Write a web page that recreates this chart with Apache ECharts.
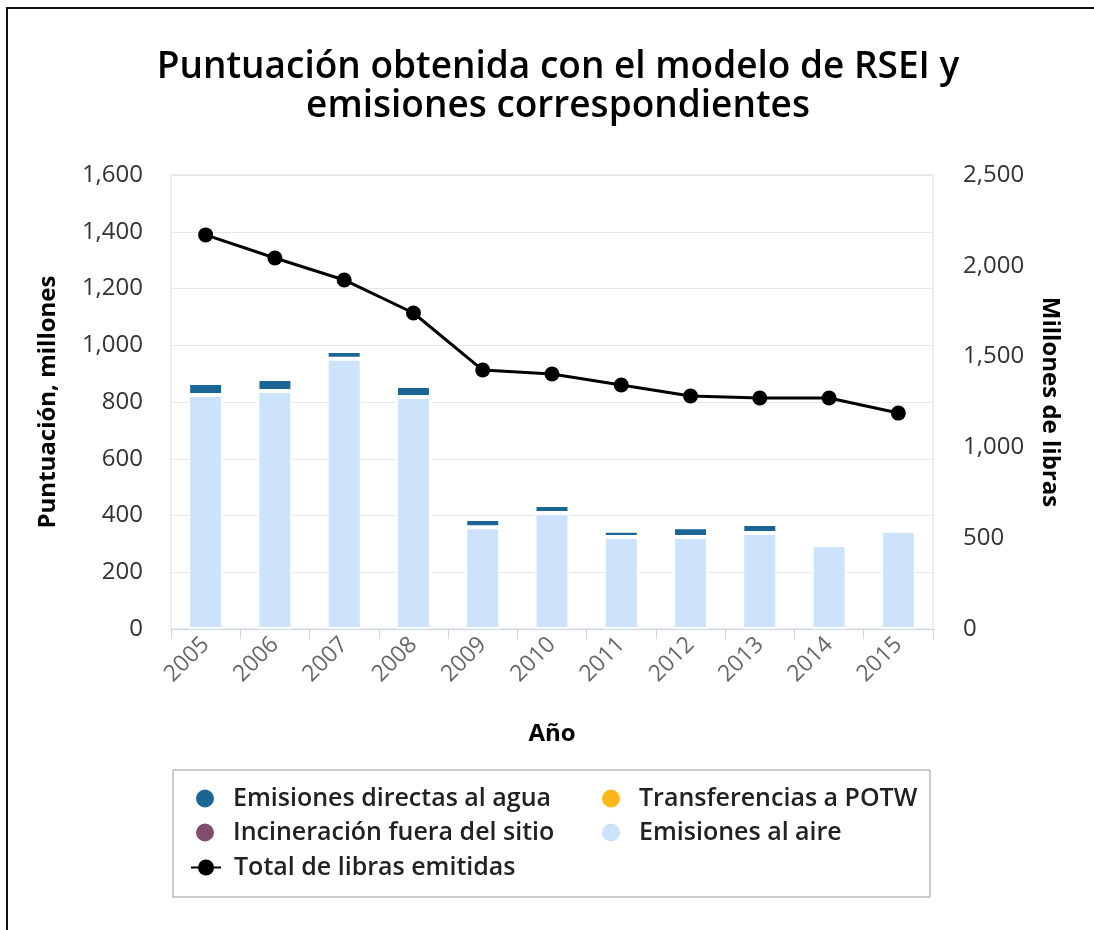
<!DOCTYPE html>
<html>
<head>
<meta charset="utf-8">
<title>RSEI</title>
<script src="https://cdn.jsdelivr.net/npm/echarts@6/dist/echarts.min.js"></script>
<style>
    html, body { margin: 0; padding: 0; background: #fff; }
    #chart { position: absolute; left: 0; top: 0; width: 1094px; height: 930px; }
    /* marco negro del recorte (arriba e izquierda) */
    #frame { position: absolute; left: 6px; top: 7px; width: 1088px; height: 923px;
             border-top: 2px solid #111; border-left: 2px solid #111; pointer-events: none; }
</style>
</head>
<body>
<div id="chart"></div>
<div id="frame"></div>
<script>
// datos
const years = ['2005', '2006', '2007', '2008', '2009', '2010', '2011', '2012', '2013', '2014', '2015'];
const aire = [825, 839, 952, 818, 359, 409, 324, 324, 338, 296, 345];
const agua = [42, 42, 28, 38, 29, 28, 22, 35, 32, 0, 14];
const potw = [0, 0, 0, 0, 0, 0, 0, 0, 0, 0, 0];
const incineracion = [0, 0, 0, 0, 0, 0, 0, 0, 0, 0, 0];
const totalLibras = [2170, 2043, 1922, 1740, 1426, 1404, 1344, 1283, 1272, 1272, 1189];
const leftTicks = [0, 1600, 200];
const rightTicks = [0, 2500, 500];

const chart = echarts.init(document.getElementById('chart'));

const FONT = '"Open Sans", "DejaVu Sans", sans-serif';
const fmt = (v) => v.toLocaleString('en-US');

// una leyenda por elemento para colocarlos en dos columnas
const legendItem = (name, left, top, extra) => Object.assign({
    data: [name],
    left: left,
    top: top,
    itemWidth: 20,
    itemHeight: 20,
    selectedMode: false,
    textStyle: { fontFamily: FONT, fontSize: 25, fontWeight: 600, color: '#222', padding: [0, 0, 0, 13] }
}, extra || {});

const barStyle = (color) => ({ color: color, borderColor: '#fff', borderWidth: 2 });

const axisName = { fontFamily: FONT, fontSize: 24, fontWeight: 'bold', color: '#000' };

const option = {
    animation: false,
    title: {
        text: 'Puntuación obtenida con el modelo de RSEI y\nemisiones correspondientes',
        left: 553,
        top: 43,
        textAlign: 'center',
        textStyle: { fontFamily: FONT, fontSize: 37, fontWeight: 600, color: '#000', lineHeight: 39 }
    },
    legend: [
        legendItem('Emisiones directas al agua', 189, 781, { icon: 'circle' }),
        legendItem('Transferencias a POTW', 595, 781, { icon: 'circle' }),
        legendItem('Incineración fuera del sitio', 189, 815, { icon: 'circle' }),
        legendItem('Emisiones al aire', 595, 815, { icon: 'circle' }),
        legendItem('Total de libras emitidas', 185, 850, {
            itemWidth: 30,
            textStyle: { fontFamily: FONT, fontSize: 25, fontWeight: 600, color: '#222', padding: [0, 0, 0, 8] }
        })
    ],
    graphic: [
        {
            type: 'rect',
            shape: { x: 173, y: 770, width: 757, height: 127 },
            style: { fill: 'none', stroke: '#999', lineWidth: 1 },
            z: -1
        }
    ],
    grid: {
        left: 171, right: 161, top: 175, bottom: 301,
        show: true, borderColor: '#ddd', borderWidth: 1
    },
    xAxis: {
        type: 'category',
        data: years,
        name: 'Año',
        nameLocation: 'middle',
        nameGap: 93,
        nameTextStyle: axisName,
        axisLine: { lineStyle: { color: '#ccd6eb', width: 1 } },
        axisTick: { show: true, length: 10, lineStyle: { color: '#ccd6eb' } },
        axisLabel: { rotate: 45, margin: 12, fontFamily: FONT, fontSize: 23, color: '#666' }
    },
    yAxis: [
        {
            type: 'value',
            min: leftTicks[0], max: leftTicks[1], interval: leftTicks[2],
            name: 'Puntuación, millones',
            nameLocation: 'middle',
            nameRotate: 90,
            nameGap: 111,
            nameTextStyle: axisName,
            axisLine: { show: false },
            axisTick: { show: false },
            axisLabel: { margin: 28, fontFamily: FONT, fontSize: 24, color: '#333', formatter: fmt },
            splitLine: { lineStyle: { color: '#e6e6e6' } }
        },
        {
            type: 'value',
            position: 'right',
            min: rightTicks[0], max: rightTicks[1], interval: rightTicks[2],
            name: 'Millones de libras',
            nameLocation: 'middle',
            nameRotate: -90,
            nameGap: 105,
            nameTextStyle: axisName,
            axisLine: { show: false },
            axisTick: { show: false },
            axisLabel: { margin: 30, fontFamily: FONT, fontSize: 24, color: '#333', formatter: fmt },
            splitLine: { show: false }
        }
    ],
    series: [
        { name: 'Emisiones al aire', type: 'bar', stack: 'rsei', data: aire, barWidth: 35, itemStyle: barStyle('#cce3fb') },
        { name: 'Incineración fuera del sitio', type: 'bar', stack: 'rsei', data: incineracion, itemStyle: barStyle('#7f4e6f') },
        { name: 'Transferencias a POTW', type: 'bar', stack: 'rsei', data: potw, itemStyle: barStyle('#fdb71a') },
        { name: 'Emisiones directas al agua', type: 'bar', stack: 'rsei', data: agua, itemStyle: barStyle('#1b6594') },
        {
            name: 'Total de libras emitidas',
            type: 'line',
            yAxisIndex: 1,
            data: totalLibras,
            symbol: 'circle',
            symbolSize: 15,
            z: 5,
            lineStyle: { color: '#000', width: 3 },
            itemStyle: { color: '#000' }
        }
    ]
};

chart.setOption(option);
</script>
</body>
</html>
